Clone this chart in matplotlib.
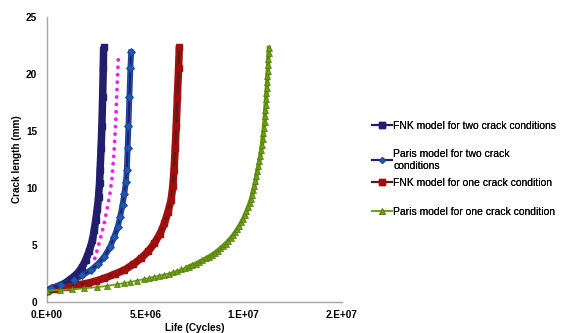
import matplotlib
matplotlib.use("Agg")
import matplotlib.pyplot as plt
from matplotlib.ticker import FuncFormatter

plt.rcParams['font.family'] = ['Liberation Sans', 'DejaVu Sans']

# life in millions of cycles, crack length in mm
fnk_two_n = [0.0, 0.4, 0.87, 1.2, 1.55, 1.8, 1.97, 2.15, 2.31, 2.4, 2.48, 2.56,
             2.62, 2.67, 2.7, 2.75, 2.79, 2.83, 2.86, 2.88]
fnk_two_a = [1.0, 1.25, 1.6, 2.0, 2.5, 3.1, 3.7, 4.5, 5.4, 6.3, 7.2, 8.2,
             9.2, 10.4, 11.6, 13.5, 15.4, 18.0, 20.5, 22.4]

paris_two_n = [0.0, 0.19, 0.7, 1.38, 1.8, 2.23, 2.6, 2.91, 3.2, 3.42, 3.6, 3.72,
               3.84, 3.93, 4.01, 4.06, 4.1, 4.14, 4.19, 4.24, 4.28]
paris_two_a = [1.0, 1.2, 1.5, 1.93, 2.35, 2.8, 3.35, 3.97, 4.8, 5.73, 6.6, 7.5,
               8.5, 9.5, 10.5, 11.6, 13.5, 15.4, 18.0, 20.5, 21.9]

fnk_one_n = [0.0, 0.5, 1.04, 1.55, 2.06, 2.5, 2.91, 3.45, 3.93, 4.38, 4.78, 5.15,
             5.46, 5.75, 5.97, 6.15, 6.31, 6.4, 6.46, 6.52, 6.57, 6.63, 6.69, 6.73]
fnk_one_a = [1.0, 1.15, 1.34, 1.5, 1.64, 1.85, 2.08, 2.45, 2.8, 3.3, 3.83, 4.45,
             5.15, 6.0, 6.9, 7.9, 8.95, 10.2, 11.6, 13.5, 15.4, 18.0, 20.5, 22.4]

paris_one_n = [0.0, 0.65, 1.26, 1.9, 2.54, 3.06, 3.56, 3.9, 4.23, 4.57, 4.91, 5.17,
               5.42, 5.68, 5.93, 6.18, 6.4, 6.62, 6.82, 7.02, 7.2, 7.38, 7.56, 7.73,
               7.9, 8.07, 8.23, 8.38, 8.53, 8.67, 8.81, 8.95, 9.08, 9.21, 9.34, 9.46,
               9.57, 9.68, 9.78, 9.88, 9.97, 10.06, 10.14, 10.22, 10.3, 10.37, 10.43,
               10.49, 10.55, 10.6, 10.65, 10.7, 10.75, 10.8, 10.85, 10.89, 10.93,
               10.96, 11.0, 11.03, 11.06, 11.08, 11.1, 11.12, 11.14, 11.16, 11.18,
               11.2, 11.21, 11.23, 11.24, 11.25, 11.27, 11.28]
paris_one_a = [1.0, 1.05, 1.1, 1.2, 1.3, 1.42, 1.55, 1.65, 1.75, 1.87, 2.0, 2.1,
               2.2, 2.3, 2.4, 2.5, 2.62, 2.74, 2.86, 2.98, 3.1, 3.22, 3.36, 3.5,
               3.66, 3.82, 3.98, 4.14, 4.32, 4.5, 4.7, 4.9, 5.12, 5.35, 5.6, 5.85,
               6.12, 6.4, 6.68, 6.98, 7.3, 7.62, 7.95, 8.3, 8.65, 9.0, 9.4,
               9.8, 10.2, 10.6, 11.05, 11.5, 11.95, 12.4, 12.85, 13.3, 13.8,
               14.3, 14.8, 15.3, 15.8, 16.3, 16.8, 17.3, 17.8, 18.3, 18.8,
               19.3, 19.8, 20.3, 20.8, 21.3, 21.8, 22.3]

# dotted curve (no legend entry)
dotted_n = [2.43, 2.65, 2.87, 3.05, 3.2, 3.3, 3.38, 3.44, 3.5, 3.55, 3.6, 3.63]
dotted_a = [3.83, 5.15, 6.6, 8.1, 9.5, 10.8, 12.5, 14.0, 16.0, 18.3, 20.2, 21.6]

labels = ["FNK model for two crack conditions",
          "Paris model for two crack\nconditions",
          "FNK model for one crack condition",
          "Paris model for one crack condition"]

xticks = [0, 5e6, 1e7, 1.5e7]
yticks = [0, 5, 10, 15, 20, 25]


def mc(v):
    return [x * 1e6 for x in v]


fig = plt.figure(figsize=(5.62, 3.33), dpi=100)
ax = fig.add_axes([47 / 562, 31 / 333, 295 / 562, 285 / 333])

navy = '#221D6C'
blue = '#1F58B4'
red = '#A10E0E'
green = '#6F9E16'

# thick bands made by the overlapping markers in the original
ax.plot(mc(fnk_two_n), fnk_two_a, color=navy, lw=5.4, solid_capstyle='butt', zorder=2)
ax.plot(mc(paris_two_n), paris_two_a, color='#1A3F8C', lw=4.2, zorder=3)
ax.plot(mc(paris_two_n), paris_two_a, color=blue, lw=2.8, zorder=3)
ax.plot(mc(fnk_one_n), fnk_one_a, color=red, lw=5.4, solid_capstyle='butt', zorder=2)
ax.plot(mc(paris_one_n[20:]), paris_one_a[20:], color=green, lw=3.2, zorder=3)

h1, = ax.plot(mc(fnk_two_n), fnk_two_a, color=navy, lw=1.5, marker='s', ms=5,
              mec=navy, zorder=3)
h2, = ax.plot(mc(paris_two_n), paris_two_a, color=navy, lw=1.5, marker='D', ms=4,
              mfc=blue, mec='#1A3F8C', mew=0.6, zorder=4)
ax.plot(mc(dotted_n), dotted_a, color='#F21EF2', lw=2.8, ls=(0, (0.01, 1.9)),
        dash_capstyle='round', zorder=3)
h3, = ax.plot(mc(fnk_one_n), fnk_one_a, color='#5A1A1A', lw=1.5, marker='s', ms=5,
              mfc=red, mec=red, zorder=3)
h4, = ax.plot(mc(paris_one_n), paris_one_a, color=green, lw=1.3, marker='^', ms=5,
              mfc=green, mec='#4E7A0C', mew=0.5, zorder=4)

ax.set_xlim(0, 1.5e7)
ax.set_ylim(0, 25)
ax.set_xticks(xticks)
ax.set_yticks(yticks)
ax.xaxis.set_major_formatter(FuncFormatter(lambda v, p: f"{v:.0E}".replace('E', '.E')))
ax.tick_params(length=0, labelsize=7.2)
ax.tick_params(axis='y', pad=7)
ax.tick_params(axis='x', pad=6)
for t in ax.get_xticklabels() + ax.get_yticklabels():
    t.set_fontweight('bold')

for s in ['top', 'right']:
    ax.spines[s].set_visible(False)
for s in ['left', 'bottom']:
    ax.spines[s].set_color('#A6A6A6')
    ax.spines[s].set_linewidth(1)

ax.set_ylabel("Crack length (mm)", fontsize=7.2, fontweight='bold', labelpad=3)
ax.set_xlabel("Life (Cycles)", fontsize=7.2, fontweight='bold', labelpad=2)

# legend entries placed one by one, like the original spacing
handles = [h1, h2, h3, h4]
leg_y = [126, 160, 183, 212]
for h, lab, y in zip(handles, labels, leg_y):
    leg = fig.legend([h], [lab], loc='center left', bbox_to_anchor=(372 / 562, 1 - y / 333),
                     frameon=False, fontsize=7.5, handlelength=1.9, handletextpad=0.15,
                     borderaxespad=0, borderpad=0, markerscale=0.8)
    fig.add_artist(leg)

fig.savefig("out.png", dpi=100)
